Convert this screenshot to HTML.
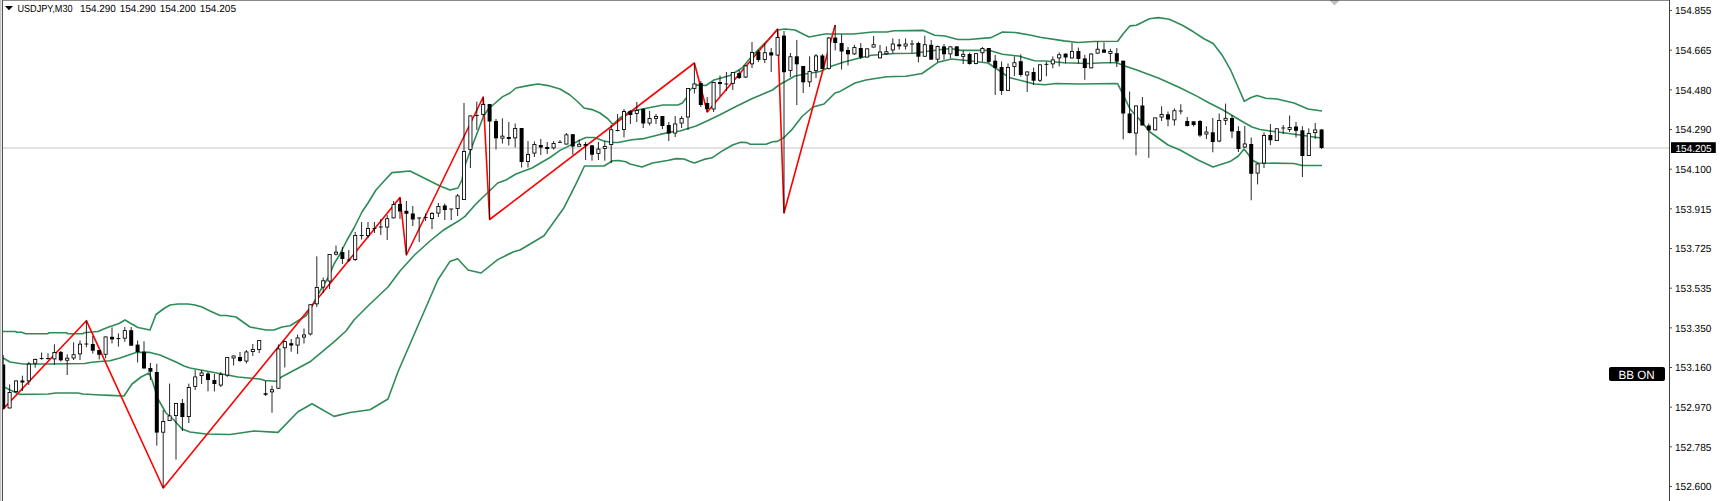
<!DOCTYPE html>
<html><head><meta charset="utf-8"><style>
html,body{margin:0;padding:0;background:#fff;}
body{width:1720px;height:501px;overflow:hidden;}
svg{display:block;}
text{font-family:"Liberation Sans",sans-serif;font-size:10.3px;fill:#000;text-rendering:geometricPrecision;}
</style></head><body>
<svg width="1720" height="501" viewBox="0 0 1720 501">
<rect width="1720" height="501" fill="#fff"/>
<defs><clipPath id="cp"><rect x="3" y="1" width="1666" height="500"/></clipPath></defs>
<line x1="3" y1="148" x2="1669" y2="148" stroke="#d8d8d8" stroke-width="1.5"/>
<g clip-path="url(#cp)">
<polyline points="0.0,331.5 15.4,331.5 16.7,332.3 21.8,332.3 25.6,333.8 47.4,333.8 49.4,332.8 66.7,332.8 68.0,333.8 82.7,333.8 84.0,332.8 98.0,331.5 102.6,329.6 110.0,326.4 112.0,326.0 119.0,323.5 125.0,320.0 130.0,323.0 138.0,327.5 150.0,330.0 156.0,314.5 164.0,308.5 170.0,305.0 178.0,304.0 188.0,304.0 195.0,305.0 202.0,307.0 210.0,311.0 220.0,315.5 226.0,315.5 236.0,317.0 250.0,327.0 266.0,330.0 274.0,330.0 282.0,327.0 290.0,325.8 306.0,315.8 312.0,306.0 320.0,291.0 328.0,278.0 334.0,264.0 340.0,254.0 344.0,246.0 347.0,240.0 354.0,228.0 362.0,212.0 368.0,203.0 376.0,190.0 385.0,180.0 392.0,172.6 410.0,171.0 428.0,180.0 440.0,186.0 450.0,190.0 458.0,188.0 462.0,180.0 464.0,168.0 471.6,147.5 477.6,132.0 483.5,116.3 488.3,109.0 493.0,105.0 502.7,96.6 510.0,93.0 516.0,88.0 528.0,85.6 538.0,84.0 548.0,85.6 560.0,89.0 570.0,95.0 578.0,102.0 584.0,108.0 592.0,109.6 600.0,113.0 608.0,119.0 613.0,124.5 619.8,118.0 630.0,111.5 645.0,108.5 663.0,105.0 678.0,105.0 682.4,103.0 687.0,97.0 690.0,90.0 696.0,85.0 706.0,85.5 714.0,80.0 730.0,75.5 742.0,68.0 752.0,56.0 770.0,38.0 777.0,30.0 785.0,29.0 795.0,30.0 809.0,37.0 824.8,34.0 853.5,34.0 872.7,32.0 887.0,32.0 894.0,30.8 923.5,30.4 934.7,35.2 945.0,36.0 957.8,39.5 969.0,39.5 991.0,37.6 1002.5,32.0 1015.0,32.5 1031.0,35.2 1040.0,37.2 1064.0,40.9 1078.0,42.5 1094.0,41.5 1117.7,41.3 1123.0,34.0 1129.8,25.9 1136.3,25.2 1149.5,18.7 1158.3,17.6 1169.3,19.3 1182.4,25.2 1193.4,31.8 1204.4,39.0 1213.2,43.5 1222.0,54.9 1230.7,70.2 1238.4,87.8 1244.3,101.4 1250.5,97.7 1257.0,95.5 1265.8,98.3 1277.0,99.0 1294.0,103.0 1308.0,109.0 1322.0,111.0" fill="none" stroke="#2e8b57" stroke-width="1.6" stroke-linejoin="round"/>
<polyline points="0.0,357.5 3.0,358.0 10.0,362.0 23.0,364.0 50.0,364.0 85.0,363.5 90.0,362.5 100.0,361.5 110.0,360.8 120.0,358.0 136.0,352.4 150.0,352.4 160.0,355.0 176.0,362.0 184.0,366.0 190.0,368.0 206.0,371.0 222.0,374.0 238.0,377.0 254.0,378.5 260.0,379.0 265.0,380.5 276.0,381.3 281.0,377.3 290.0,372.5 310.0,361.8 334.0,341.8 346.0,331.0 354.0,320.0 370.0,304.0 388.0,287.0 400.0,271.0 414.5,255.0 430.0,241.0 444.0,229.7 458.0,221.3 465.0,216.4 475.0,205.0 480.0,200.0 497.7,183.0 506.0,180.0 516.0,174.0 532.0,168.0 550.0,157.5 560.0,150.4 572.0,144.4 580.0,140.0 586.0,137.5 594.0,137.5 604.0,141.0 612.0,142.5 618.0,142.5 632.0,139.8 644.0,138.6 660.0,134.4 671.7,131.9 680.0,131.0 696.0,125.9 707.0,121.0 720.0,114.7 734.0,107.5 751.8,98.8 772.5,90.0 779.0,85.0 795.0,76.0 808.0,73.5 820.0,71.5 832.0,66.0 844.0,62.0 859.5,58.0 871.5,55.3 894.7,53.5 914.0,53.2 930.0,51.0 950.0,48.5 961.0,50.4 989.7,50.4 1002.5,54.3 1018.5,56.0 1034.5,60.7 1045.0,61.0 1064.0,62.7 1088.0,63.5 1104.0,62.7 1116.7,62.7 1124.7,66.0 1134.0,69.1 1158.3,78.0 1180.0,87.8 1197.8,96.6 1208.7,102.7 1222.6,109.7 1233.8,116.5 1244.0,122.5 1252.0,127.0 1260.0,129.5 1270.0,131.0 1300.0,135.0 1321.0,138.0" fill="none" stroke="#2e8b57" stroke-width="1.6" stroke-linejoin="round"/>
<polyline points="0.0,385.5 5.0,387.4 10.0,390.0 20.0,394.4 48.0,394.0 56.0,393.0 78.0,393.0 83.0,394.0 100.0,395.0 110.0,395.4 124.0,396.0 132.0,384.0 141.0,377.0 149.0,373.0 152.0,380.0 158.0,399.0 166.0,413.0 174.0,420.0 182.0,429.0 190.0,432.0 206.0,434.0 230.0,434.5 254.0,431.0 278.0,432.4 298.0,411.7 312.0,403.7 334.0,416.4 350.0,412.5 370.0,409.7 388.0,399.0 398.0,371.7 413.6,335.8 430.0,298.0 437.8,280.0 449.8,261.6 457.7,258.8 468.0,270.0 481.0,273.0 497.7,259.6 513.6,251.7 520.0,250.0 544.0,235.7 564.0,207.7 576.0,183.8 584.5,166.0 604.0,166.0 612.7,160.7 618.7,160.5 625.8,161.8 630.0,164.0 642.0,167.0 652.4,163.0 667.4,160.5 676.4,158.6 684.0,159.0 690.0,161.6 694.4,163.0 704.0,159.4 712.0,157.8 721.5,151.4 732.6,145.0 740.6,142.3 747.0,142.6 750.2,144.2 766.0,144.2 772.5,141.8 777.3,141.4 783.7,137.8 791.6,129.9 802.0,116.5 813.0,107.0 824.0,104.0 835.0,93.0 840.0,91.4 855.0,83.0 866.0,80.0 886.7,76.7 906.0,76.2 922.0,73.5 938.0,62.3 951.4,59.0 969.0,60.7 988.0,63.0 997.7,69.5 1009.0,77.5 1025.0,81.5 1034.5,84.0 1045.0,84.7 1056.0,83.5 1080.0,84.0 1115.0,83.5 1117.7,83.8 1123.0,94.4 1130.0,109.0 1140.0,120.0 1150.0,132.0 1168.0,145.0 1180.0,150.0 1198.0,160.0 1213.0,167.0 1230.0,161.6 1238.4,156.0 1244.0,149.0 1248.0,154.0 1252.3,160.3 1258.0,163.0 1294.0,163.5 1302.0,165.5 1322.0,165.5" fill="none" stroke="#2e8b57" stroke-width="1.6" stroke-linejoin="round"/>
<polyline points="3.2,409.0 86.4,320.7 163.2,488.0 400.0,197.6 406.4,255.0 483.2,97.0 489.6,219.5 694.4,63.0 707.2,112.0 777.6,29.0 784.0,213.0 835.2,25.0" fill="none" stroke="#ff0000" stroke-width="1.6" stroke-linejoin="round"/>
<path d="M3.20 355.0V409.5M9.60 384.4V408.4M16.00 380.5V393.0M22.40 375.7V391.0M28.80 362.0V385.0M35.20 358.6V367.7M41.60 352.5V359.7M48.00 353.3V359.7M54.40 344.3V364.7M60.80 351.0V361.5M67.20 354.3V375.0M73.60 342.3V360.0M80.00 340.4V360.0M86.40 320.7V347.3M92.80 336.0V353.6M99.20 350.0V359.5M105.60 336.5V358.3M112.00 327.4V343.4M118.40 333.4V346.6M124.80 327.0V341.8M131.20 327.0V345.7M137.60 340.6V362.5M144.00 341.3V368.5M150.40 363.0V380.0M156.80 363.7V445.6M163.20 410.0V488.0M169.60 383.6V421.0M176.00 403.0V459.6M182.40 399.0V431.0M188.80 383.6V423.0M195.20 370.0V390.0M201.60 370.0V384.0M208.00 372.0V391.4M214.40 374.0V391.4M220.80 372.0V387.0M227.20 357.0V377.0M233.60 355.5V365.5M240.00 352.0V362.0M246.40 350.0V363.5M252.80 344.0V356.0M259.20 340.0V353.0M265.60 381.0V396.0M272.00 385.7V412.7M278.40 344.5V389.0M284.80 340.5V367.5M291.20 339.0V351.8M297.60 334.5V354.0M304.00 328.5V343.5M310.40 304.3V335.5M316.80 256.4V307.0M323.20 277.5V293.0M329.60 254.0V289.0M336.00 245.5V255.5M342.40 247.0V264.0M348.80 250.0V262.0M355.20 232.0V261.0M361.60 222.0V239.5M368.00 222.0V238.0M374.40 222.0V233.0M380.80 219.0V235.0M387.20 215.0V240.0M393.60 201.0V218.3M400.00 197.6V219.0M406.40 201.0V255.0M412.80 206.0V226.0M419.20 217.5V242.0M425.60 213.5V221.0M432.00 212.0V229.0M438.40 203.0V217.0M444.80 203.5V220.0M451.20 209.0V220.0M457.60 194.0V216.0M464.00 103.0V200.0M470.40 115.5V168.0M476.80 101.6V130.0M483.20 97.0V116.0M489.60 104.0V219.5M496.00 119.0V149.5M502.40 118.4V143.5M508.80 122.0V145.5M515.20 123.5V147.5M521.60 128.0V167.5M528.00 141.0V167.5M534.40 141.5V157.0M540.80 139.0V155.0M547.20 142.0V154.0M553.60 141.0V149.5M560.00 140.0V143.0M566.40 133.0V144.5M572.80 134.2V154.7M579.20 139.8V146.0M585.60 142.0V160.0M592.00 145.0V160.7M598.40 142.0V160.0M604.80 141.0V160.7M611.20 124.8V163.0M617.60 114.0V131.4M624.00 109.0V137.4M630.40 110.0V124.0M636.80 102.0V122.0M643.20 108.0V128.0M649.60 111.0V125.5M656.00 114.0V124.0M662.40 116.0V129.0M668.80 122.0V141.0M675.20 116.0V137.0M681.60 116.0V128.0M688.00 88.0V130.0M694.40 63.0V93.5M700.80 81.0V107.0M707.20 97.0V112.0M713.60 82.0V112.0M720.00 75.5V96.0M726.40 72.0V91.0M732.80 72.0V90.0M739.20 70.0V79.0M745.60 65.0V78.0M752.00 42.0V68.0M758.40 50.0V62.0M764.80 43.5V63.0M771.20 48.0V72.0M777.60 29.0V55.5M784.00 31.0V213.0M790.40 53.0V77.0M796.80 40.0V105.0M803.20 66.0V93.0M809.60 56.3V87.0M816.00 54.0V78.0M822.40 54.0V69.0M828.80 37.0V69.5M835.20 25.0V50.4M841.60 34.4V69.5M848.00 47.0V65.5M854.40 44.8V55.0M860.80 43.0V59.0M867.20 48.4V57.5M873.60 36.0V47.5M880.00 45.0V58.3M886.40 46.4V55.0M892.80 38.4V53.5M899.20 39.0V49.6M905.60 38.4V49.6M912.00 40.0V53.5M918.40 41.6V62.3M924.80 35.7V56.7M931.20 40.0V60.0M937.60 45.6V62.0M944.00 44.0V59.6M950.40 46.4V58.3M956.80 46.0V56.4M963.20 50.4V64.0M969.60 52.7V64.7M976.00 53.2V64.4M982.40 47.0V61.5M988.80 48.0V62.8M995.20 55.0V95.0M1001.60 61.5V95.0M1008.00 63.5V91.0M1014.40 56.4V76.0M1020.80 54.3V76.7M1027.20 71.5V92.0M1033.60 67.6V85.0M1040.00 64.4V82.0M1046.40 62.0V76.3M1052.80 56.4V68.3M1059.20 52.4V66.4M1065.60 53.6V63.5M1072.00 42.8V58.4M1078.40 47.6V63.5M1084.80 54.8V79.8M1091.20 53.2V68.3M1097.60 41.5V53.6M1104.00 42.5V52.7M1110.40 48.8V63.2M1116.80 48.0V67.0M1123.20 60.7V139.4M1129.60 91.5V133.5M1136.00 105.5V155.4M1142.40 97.0V125.5M1148.80 123.5V157.8M1155.20 117.5V130.3M1161.60 106.3V121.0M1168.00 111.5V126.3M1174.40 108.3V125.5M1180.80 104.3V114.3M1187.20 117.0V126.5M1193.60 121.3V126.5M1200.00 120.0V137.0M1206.40 126.3V139.0M1212.80 118.0V152.3M1219.20 113.5V142.3M1225.60 103.6V125.0M1232.00 115.0V138.0M1238.40 126.3V152.0M1244.80 126.0V148.0M1251.20 137.5V200.3M1257.60 163.5V184.4M1264.00 132.3V168.0M1270.40 124.0V145.0M1276.80 128.3V141.0M1283.20 125.0V134.0M1289.60 115.5V132.0M1296.00 122.0V137.5M1302.40 126.3V177.0M1308.80 128.3V156.0M1315.20 123.0V139.0M1321.60 129.0V149.0" stroke="#000" stroke-width="0.85" fill="none"/>
<rect x="1.20" y="364.50" width="4.0" height="44.10" fill="#000"/>
<rect x="8.03" y="392.43" width="3.15" height="15.55" fill="#fff" stroke="#000" stroke-width="0.85"/>
<rect x="14.43" y="380.93" width="3.15" height="10.65" fill="#fff" stroke="#000" stroke-width="0.85"/>
<rect x="20.40" y="380.50" width="4.0" height="2.00" fill="#000"/>
<rect x="27.23" y="364.12" width="3.15" height="16.75" fill="#fff" stroke="#000" stroke-width="0.85"/>
<rect x="33.62" y="359.43" width="3.15" height="3.85" fill="#fff" stroke="#000" stroke-width="0.85"/>
<rect x="39.60" y="358.15" width="4.0" height="0.9" fill="#000"/>
<rect x="46.00" y="358.15" width="4.0" height="0.9" fill="#000"/>
<rect x="52.83" y="352.43" width="3.15" height="6.45" fill="#fff" stroke="#000" stroke-width="0.85"/>
<rect x="58.80" y="351.90" width="4.0" height="8.40" fill="#000"/>
<rect x="65.62" y="358.18" width="3.15" height="2.05" fill="#fff" stroke="#000" stroke-width="0.85"/>
<rect x="72.03" y="354.73" width="3.15" height="3.25" fill="#fff" stroke="#000" stroke-width="0.85"/>
<rect x="78.43" y="344.12" width="3.15" height="9.75" fill="#fff" stroke="#000" stroke-width="0.85"/>
<rect x="84.40" y="343.55" width="4.0" height="0.9" fill="#000"/>
<rect x="90.80" y="344.00" width="4.0" height="6.70" fill="#000"/>
<rect x="97.20" y="350.00" width="4.0" height="4.80" fill="#000"/>
<rect x="104.03" y="336.93" width="3.15" height="17.35" fill="#fff" stroke="#000" stroke-width="0.85"/>
<rect x="110.00" y="336.80" width="4.0" height="2.60" fill="#000"/>
<rect x="116.40" y="338.15" width="4.0" height="0.9" fill="#000"/>
<rect x="123.23" y="330.62" width="3.15" height="7.55" fill="#fff" stroke="#000" stroke-width="0.85"/>
<rect x="129.20" y="330.20" width="4.0" height="15.50" fill="#000"/>
<rect x="135.60" y="344.60" width="4.0" height="7.40" fill="#000"/>
<rect x="142.00" y="351.70" width="4.0" height="16.80" fill="#000"/>
<rect x="148.40" y="368.00" width="4.0" height="3.70" fill="#000"/>
<rect x="154.80" y="372.00" width="4.0" height="60.60" fill="#000"/>
<rect x="161.62" y="421.43" width="3.15" height="10.75" fill="#fff" stroke="#000" stroke-width="0.85"/>
<rect x="168.03" y="415.93" width="3.15" height="4.65" fill="#fff" stroke="#000" stroke-width="0.85"/>
<rect x="174.43" y="403.43" width="3.15" height="12.15" fill="#fff" stroke="#000" stroke-width="0.85"/>
<rect x="180.40" y="403.00" width="4.0" height="14.00" fill="#000"/>
<rect x="187.23" y="387.43" width="3.15" height="29.15" fill="#fff" stroke="#000" stroke-width="0.85"/>
<rect x="193.62" y="376.93" width="3.15" height="9.45" fill="#fff" stroke="#000" stroke-width="0.85"/>
<rect x="200.03" y="372.93" width="3.15" height="2.65" fill="#fff" stroke="#000" stroke-width="0.85"/>
<rect x="206.00" y="373.50" width="4.0" height="6.50" fill="#000"/>
<rect x="212.40" y="380.00" width="4.0" height="4.00" fill="#000"/>
<rect x="219.23" y="374.43" width="3.15" height="10.65" fill="#fff" stroke="#000" stroke-width="0.85"/>
<rect x="225.62" y="357.43" width="3.15" height="17.65" fill="#fff" stroke="#000" stroke-width="0.85"/>
<rect x="232.03" y="355.98" width="3.15" height="2.05" fill="#fff" stroke="#000" stroke-width="0.85"/>
<rect x="238.00" y="357.00" width="4.0" height="4.00" fill="#000"/>
<rect x="244.83" y="351.93" width="3.15" height="9.15" fill="#fff" stroke="#000" stroke-width="0.85"/>
<rect x="251.23" y="349.43" width="3.15" height="2.15" fill="#fff" stroke="#000" stroke-width="0.85"/>
<rect x="257.62" y="340.43" width="3.15" height="9.15" fill="#fff" stroke="#000" stroke-width="0.85"/>
<rect x="263.60" y="393.25" width="4.0" height="1.50" fill="#000"/>
<rect x="270.43" y="389.73" width="3.15" height="2.15" fill="#fff" stroke="#000" stroke-width="0.85"/>
<rect x="276.82" y="348.93" width="3.15" height="39.35" fill="#fff" stroke="#000" stroke-width="0.85"/>
<rect x="283.23" y="341.62" width="3.15" height="6.15" fill="#fff" stroke="#000" stroke-width="0.85"/>
<rect x="289.20" y="343.20" width="4.0" height="2.30" fill="#000"/>
<rect x="296.03" y="337.93" width="3.15" height="7.15" fill="#fff" stroke="#000" stroke-width="0.85"/>
<rect x="302.43" y="334.93" width="3.15" height="2.15" fill="#fff" stroke="#000" stroke-width="0.85"/>
<rect x="308.83" y="304.73" width="3.15" height="29.25" fill="#fff" stroke="#000" stroke-width="0.85"/>
<rect x="315.23" y="287.43" width="3.15" height="16.45" fill="#fff" stroke="#000" stroke-width="0.85"/>
<rect x="321.62" y="280.73" width="3.15" height="6.35" fill="#fff" stroke="#000" stroke-width="0.85"/>
<rect x="328.03" y="254.43" width="3.15" height="26.65" fill="#fff" stroke="#000" stroke-width="0.85"/>
<rect x="334.43" y="252.13" width="3.15" height="2.05" fill="#fff" stroke="#000" stroke-width="0.85"/>
<rect x="340.40" y="252.00" width="4.0" height="7.00" fill="#000"/>
<rect x="346.80" y="259.55" width="4.0" height="0.9" fill="#000"/>
<rect x="353.62" y="235.43" width="3.15" height="24.15" fill="#fff" stroke="#000" stroke-width="0.85"/>
<rect x="359.60" y="235.05" width="4.0" height="0.9" fill="#000"/>
<rect x="366.43" y="228.43" width="3.15" height="7.15" fill="#fff" stroke="#000" stroke-width="0.85"/>
<rect x="372.40" y="228.05" width="4.0" height="0.9" fill="#000"/>
<rect x="378.80" y="226.55" width="4.0" height="0.9" fill="#000"/>
<rect x="385.62" y="218.73" width="3.15" height="8.35" fill="#fff" stroke="#000" stroke-width="0.85"/>
<rect x="392.03" y="204.43" width="3.15" height="13.45" fill="#fff" stroke="#000" stroke-width="0.85"/>
<rect x="398.00" y="204.00" width="4.0" height="7.50" fill="#000"/>
<rect x="404.40" y="210.80" width="4.0" height="3.00" fill="#000"/>
<rect x="410.80" y="213.50" width="4.0" height="6.00" fill="#000"/>
<rect x="417.20" y="217.55" width="4.0" height="0.9" fill="#000"/>
<rect x="423.60" y="217.05" width="4.0" height="0.9" fill="#000"/>
<rect x="430.43" y="213.43" width="3.15" height="5.15" fill="#fff" stroke="#000" stroke-width="0.85"/>
<rect x="436.83" y="206.43" width="3.15" height="6.65" fill="#fff" stroke="#000" stroke-width="0.85"/>
<rect x="442.80" y="205.50" width="4.0" height="4.50" fill="#000"/>
<rect x="449.20" y="208.55" width="4.0" height="0.9" fill="#000"/>
<rect x="456.03" y="195.93" width="3.15" height="12.65" fill="#fff" stroke="#000" stroke-width="0.85"/>
<rect x="462.43" y="151.43" width="3.15" height="48.15" fill="#fff" stroke="#000" stroke-width="0.85"/>
<rect x="468.83" y="115.92" width="3.15" height="33.65" fill="#fff" stroke="#000" stroke-width="0.85"/>
<rect x="474.80" y="115.05" width="4.0" height="0.9" fill="#000"/>
<rect x="481.62" y="104.42" width="3.15" height="10.15" fill="#fff" stroke="#000" stroke-width="0.85"/>
<rect x="487.60" y="104.00" width="4.0" height="17.50" fill="#000"/>
<rect x="494.00" y="121.00" width="4.0" height="17.30" fill="#000"/>
<rect x="500.83" y="136.13" width="3.15" height="2.05" fill="#fff" stroke="#000" stroke-width="0.85"/>
<rect x="506.80" y="137.00" width="4.0" height="2.00" fill="#000"/>
<rect x="513.62" y="128.43" width="3.15" height="9.45" fill="#fff" stroke="#000" stroke-width="0.85"/>
<rect x="519.60" y="128.00" width="4.0" height="34.00" fill="#000"/>
<rect x="526.43" y="154.43" width="3.15" height="7.15" fill="#fff" stroke="#000" stroke-width="0.85"/>
<rect x="532.83" y="144.43" width="3.15" height="8.65" fill="#fff" stroke="#000" stroke-width="0.85"/>
<rect x="538.80" y="145.00" width="4.0" height="2.50" fill="#000"/>
<rect x="545.20" y="147.00" width="4.0" height="2.00" fill="#000"/>
<rect x="552.02" y="143.43" width="3.15" height="4.45" fill="#fff" stroke="#000" stroke-width="0.85"/>
<rect x="558.00" y="141.85" width="4.0" height="0.9" fill="#000"/>
<rect x="564.83" y="134.83" width="3.15" height="9.25" fill="#fff" stroke="#000" stroke-width="0.85"/>
<rect x="570.80" y="134.20" width="4.0" height="12.30" fill="#000"/>
<rect x="577.62" y="144.23" width="3.15" height="2.05" fill="#fff" stroke="#000" stroke-width="0.85"/>
<rect x="583.60" y="144.00" width="4.0" height="1.70" fill="#000"/>
<rect x="590.00" y="145.40" width="4.0" height="9.30" fill="#000"/>
<rect x="596.83" y="149.12" width="3.15" height="4.45" fill="#fff" stroke="#000" stroke-width="0.85"/>
<rect x="603.23" y="146.38" width="3.15" height="2.05" fill="#fff" stroke="#000" stroke-width="0.85"/>
<rect x="609.62" y="129.73" width="3.15" height="14.85" fill="#fff" stroke="#000" stroke-width="0.85"/>
<rect x="615.60" y="130.05" width="4.0" height="0.9" fill="#000"/>
<rect x="622.43" y="111.42" width="3.15" height="18.15" fill="#fff" stroke="#000" stroke-width="0.85"/>
<rect x="628.40" y="111.00" width="4.0" height="4.00" fill="#000"/>
<rect x="635.23" y="110.42" width="3.15" height="3.15" fill="#fff" stroke="#000" stroke-width="0.85"/>
<rect x="641.20" y="109.00" width="4.0" height="14.50" fill="#000"/>
<rect x="648.03" y="118.42" width="3.15" height="4.65" fill="#fff" stroke="#000" stroke-width="0.85"/>
<rect x="654.43" y="116.42" width="3.15" height="2.15" fill="#fff" stroke="#000" stroke-width="0.85"/>
<rect x="660.40" y="116.00" width="4.0" height="10.00" fill="#000"/>
<rect x="666.80" y="125.00" width="4.0" height="8.50" fill="#000"/>
<rect x="673.62" y="123.92" width="3.15" height="9.15" fill="#fff" stroke="#000" stroke-width="0.85"/>
<rect x="680.03" y="118.42" width="3.15" height="4.65" fill="#fff" stroke="#000" stroke-width="0.85"/>
<rect x="686.43" y="88.42" width="3.15" height="28.55" fill="#fff" stroke="#000" stroke-width="0.85"/>
<rect x="692.83" y="83.92" width="3.15" height="4.65" fill="#fff" stroke="#000" stroke-width="0.85"/>
<rect x="698.80" y="83.00" width="4.0" height="22.00" fill="#000"/>
<rect x="705.20" y="103.00" width="4.0" height="6.00" fill="#000"/>
<rect x="712.03" y="82.42" width="3.15" height="26.55" fill="#fff" stroke="#000" stroke-width="0.85"/>
<rect x="718.00" y="82.00" width="4.0" height="2.00" fill="#000"/>
<rect x="724.40" y="83.55" width="4.0" height="0.9" fill="#000"/>
<rect x="731.23" y="72.42" width="3.15" height="11.15" fill="#fff" stroke="#000" stroke-width="0.85"/>
<rect x="737.20" y="73.00" width="4.0" height="5.00" fill="#000"/>
<rect x="744.03" y="65.92" width="3.15" height="11.15" fill="#fff" stroke="#000" stroke-width="0.85"/>
<rect x="750.43" y="52.42" width="3.15" height="11.45" fill="#fff" stroke="#000" stroke-width="0.85"/>
<rect x="756.40" y="51.50" width="4.0" height="8.50" fill="#000"/>
<rect x="763.23" y="52.72" width="3.15" height="6.85" fill="#fff" stroke="#000" stroke-width="0.85"/>
<rect x="769.20" y="52.30" width="4.0" height="3.20" fill="#000"/>
<rect x="776.03" y="37.42" width="3.15" height="17.65" fill="#fff" stroke="#000" stroke-width="0.85"/>
<rect x="782.00" y="35.60" width="4.0" height="36.60" fill="#000"/>
<rect x="788.83" y="56.72" width="3.15" height="13.85" fill="#fff" stroke="#000" stroke-width="0.85"/>
<rect x="794.80" y="56.30" width="4.0" height="8.00" fill="#000"/>
<rect x="801.20" y="66.00" width="4.0" height="16.30" fill="#000"/>
<rect x="808.03" y="71.42" width="3.15" height="10.45" fill="#fff" stroke="#000" stroke-width="0.85"/>
<rect x="814.43" y="55.92" width="3.15" height="14.65" fill="#fff" stroke="#000" stroke-width="0.85"/>
<rect x="820.40" y="55.50" width="4.0" height="13.50" fill="#000"/>
<rect x="827.23" y="38.02" width="3.15" height="30.55" fill="#fff" stroke="#000" stroke-width="0.85"/>
<rect x="833.20" y="37.60" width="4.0" height="5.40" fill="#000"/>
<rect x="839.60" y="43.00" width="4.0" height="8.50" fill="#000"/>
<rect x="846.00" y="50.00" width="4.0" height="4.30" fill="#000"/>
<rect x="852.83" y="47.42" width="3.15" height="6.45" fill="#fff" stroke="#000" stroke-width="0.85"/>
<rect x="858.80" y="48.00" width="4.0" height="9.50" fill="#000"/>
<rect x="865.62" y="48.82" width="3.15" height="8.25" fill="#fff" stroke="#000" stroke-width="0.85"/>
<rect x="872.03" y="44.72" width="3.15" height="2.35" fill="#fff" stroke="#000" stroke-width="0.85"/>
<rect x="878.43" y="52.02" width="3.15" height="5.85" fill="#fff" stroke="#000" stroke-width="0.85"/>
<rect x="884.83" y="51.72" width="3.15" height="2.05" fill="#fff" stroke="#000" stroke-width="0.85"/>
<rect x="891.23" y="44.02" width="3.15" height="5.95" fill="#fff" stroke="#000" stroke-width="0.85"/>
<rect x="897.20" y="44.30" width="4.0" height="2.10" fill="#000"/>
<rect x="904.03" y="43.97" width="3.15" height="2.05" fill="#fff" stroke="#000" stroke-width="0.85"/>
<rect x="910.00" y="43.55" width="4.0" height="0.9" fill="#000"/>
<rect x="916.40" y="43.00" width="4.0" height="13.70" fill="#000"/>
<rect x="923.23" y="44.72" width="3.15" height="11.55" fill="#fff" stroke="#000" stroke-width="0.85"/>
<rect x="929.20" y="44.80" width="4.0" height="14.80" fill="#000"/>
<rect x="936.03" y="46.42" width="3.15" height="12.75" fill="#fff" stroke="#000" stroke-width="0.85"/>
<rect x="942.00" y="46.40" width="4.0" height="7.90" fill="#000"/>
<rect x="948.83" y="46.82" width="3.15" height="7.05" fill="#fff" stroke="#000" stroke-width="0.85"/>
<rect x="954.80" y="46.40" width="4.0" height="9.60" fill="#000"/>
<rect x="961.62" y="54.32" width="3.15" height="2.05" fill="#fff" stroke="#000" stroke-width="0.85"/>
<rect x="967.60" y="54.00" width="4.0" height="10.00" fill="#000"/>
<rect x="974.43" y="53.62" width="3.15" height="9.95" fill="#fff" stroke="#000" stroke-width="0.85"/>
<rect x="980.83" y="48.42" width="3.15" height="4.35" fill="#fff" stroke="#000" stroke-width="0.85"/>
<rect x="986.80" y="48.00" width="4.0" height="13.90" fill="#000"/>
<rect x="993.20" y="60.70" width="4.0" height="7.30" fill="#000"/>
<rect x="999.60" y="67.00" width="4.0" height="24.00" fill="#000"/>
<rect x="1006.43" y="67.42" width="3.15" height="23.15" fill="#fff" stroke="#000" stroke-width="0.85"/>
<rect x="1012.83" y="62.72" width="3.15" height="3.85" fill="#fff" stroke="#000" stroke-width="0.85"/>
<rect x="1018.80" y="61.20" width="4.0" height="13.80" fill="#000"/>
<rect x="1025.62" y="71.92" width="3.15" height="3.15" fill="#fff" stroke="#000" stroke-width="0.85"/>
<rect x="1031.60" y="72.00" width="4.0" height="8.70" fill="#000"/>
<rect x="1038.42" y="64.83" width="3.15" height="15.45" fill="#fff" stroke="#000" stroke-width="0.85"/>
<rect x="1044.40" y="63.85" width="4.0" height="0.9" fill="#000"/>
<rect x="1051.23" y="59.92" width="3.15" height="3.95" fill="#fff" stroke="#000" stroke-width="0.85"/>
<rect x="1057.62" y="54.72" width="3.15" height="3.25" fill="#fff" stroke="#000" stroke-width="0.85"/>
<rect x="1063.60" y="53.60" width="4.0" height="3.90" fill="#000"/>
<rect x="1070.42" y="51.42" width="3.15" height="6.55" fill="#fff" stroke="#000" stroke-width="0.85"/>
<rect x="1076.40" y="51.00" width="4.0" height="8.00" fill="#000"/>
<rect x="1082.80" y="58.40" width="4.0" height="9.60" fill="#000"/>
<rect x="1089.62" y="54.02" width="3.15" height="13.85" fill="#fff" stroke="#000" stroke-width="0.85"/>
<rect x="1096.03" y="49.22" width="3.15" height="3.95" fill="#fff" stroke="#000" stroke-width="0.85"/>
<rect x="1102.00" y="49.50" width="4.0" height="3.20" fill="#000"/>
<rect x="1108.83" y="51.38" width="3.15" height="2.05" fill="#fff" stroke="#000" stroke-width="0.85"/>
<rect x="1114.80" y="53.20" width="4.0" height="8.40" fill="#000"/>
<rect x="1121.20" y="60.70" width="4.0" height="52.80" fill="#000"/>
<rect x="1127.60" y="113.50" width="4.0" height="19.50" fill="#000"/>
<rect x="1134.42" y="105.92" width="3.15" height="27.15" fill="#fff" stroke="#000" stroke-width="0.85"/>
<rect x="1140.40" y="105.50" width="4.0" height="20.00" fill="#000"/>
<rect x="1146.80" y="125.50" width="4.0" height="4.80" fill="#000"/>
<rect x="1153.62" y="117.92" width="3.15" height="11.95" fill="#fff" stroke="#000" stroke-width="0.85"/>
<rect x="1160.03" y="114.42" width="3.15" height="2.65" fill="#fff" stroke="#000" stroke-width="0.85"/>
<rect x="1166.00" y="114.30" width="4.0" height="5.20" fill="#000"/>
<rect x="1172.83" y="110.72" width="3.15" height="9.15" fill="#fff" stroke="#000" stroke-width="0.85"/>
<rect x="1178.80" y="110.55" width="4.0" height="0.9" fill="#000"/>
<rect x="1185.20" y="121.00" width="4.0" height="5.00" fill="#000"/>
<rect x="1191.60" y="121.30" width="4.0" height="3.70" fill="#000"/>
<rect x="1198.00" y="121.00" width="4.0" height="14.50" fill="#000"/>
<rect x="1204.83" y="131.98" width="3.15" height="2.05" fill="#fff" stroke="#000" stroke-width="0.85"/>
<rect x="1210.80" y="132.30" width="4.0" height="9.70" fill="#000"/>
<rect x="1217.62" y="120.42" width="3.15" height="20.65" fill="#fff" stroke="#000" stroke-width="0.85"/>
<rect x="1224.03" y="118.27" width="3.15" height="2.05" fill="#fff" stroke="#000" stroke-width="0.85"/>
<rect x="1230.00" y="118.00" width="4.0" height="13.50" fill="#000"/>
<rect x="1236.40" y="131.00" width="4.0" height="18.00" fill="#000"/>
<rect x="1243.23" y="143.93" width="3.15" height="3.15" fill="#fff" stroke="#000" stroke-width="0.85"/>
<rect x="1249.20" y="144.00" width="4.0" height="29.80" fill="#000"/>
<rect x="1256.03" y="163.93" width="3.15" height="9.15" fill="#fff" stroke="#000" stroke-width="0.85"/>
<rect x="1262.43" y="135.43" width="3.15" height="27.65" fill="#fff" stroke="#000" stroke-width="0.85"/>
<rect x="1268.40" y="135.00" width="4.0" height="5.30" fill="#000"/>
<rect x="1275.23" y="128.73" width="3.15" height="11.85" fill="#fff" stroke="#000" stroke-width="0.85"/>
<rect x="1281.20" y="127.55" width="4.0" height="0.9" fill="#000"/>
<rect x="1288.03" y="127.47" width="3.15" height="2.05" fill="#fff" stroke="#000" stroke-width="0.85"/>
<rect x="1294.00" y="126.50" width="4.0" height="4.30" fill="#000"/>
<rect x="1300.40" y="130.30" width="4.0" height="25.70" fill="#000"/>
<rect x="1307.23" y="133.43" width="3.15" height="22.15" fill="#fff" stroke="#000" stroke-width="0.85"/>
<rect x="1313.62" y="129.93" width="3.15" height="2.65" fill="#fff" stroke="#000" stroke-width="0.85"/>
<rect x="1319.60" y="129.50" width="4.0" height="18.50" fill="#000"/>
</g>
<rect x="0" y="0" width="1" height="501" fill="#c4c4c4"/>
<rect x="1" y="0" width="1" height="501" fill="#e8e8e8"/>
<rect x="2" y="0" width="1" height="501" fill="#505050"/>
<rect x="3" y="0" width="1666" height="1" fill="#8a8a8a"/>
<rect x="1669" y="0" width="1" height="501" fill="#404040"/>
<path d="M1330 1H1339L1334.5 5.4Z" fill="#c0c0c0"/><rect x="1330" y="0" width="9" height="1" fill="#6a6a6a"/>
<path d="M5 6H13L9 10.2Z" fill="#000"/>
<text x="17.4" y="11.9" textLength="55.2" lengthAdjust="spacingAndGlyphs">USDJPY,M30</text>
<text x="79.9" y="11.9" textLength="36" lengthAdjust="spacingAndGlyphs">154.290</text>
<text x="119.8" y="11.9" textLength="36" lengthAdjust="spacingAndGlyphs">154.290</text>
<text x="159.8" y="11.9" textLength="36" lengthAdjust="spacingAndGlyphs">154.200</text>
<text x="199.7" y="11.9" textLength="36.3" lengthAdjust="spacingAndGlyphs">154.205</text>
<rect x="1670" y="10.00" width="2" height="1" fill="#505050"/>
<text x="1675" y="14.20" textLength="36.4" lengthAdjust="spacingAndGlyphs">154.855</text>
<rect x="1670" y="49.67" width="2" height="1" fill="#505050"/>
<text x="1675" y="53.87" textLength="36.4" lengthAdjust="spacingAndGlyphs">154.665</text>
<rect x="1670" y="89.33" width="2" height="1" fill="#505050"/>
<text x="1675" y="93.53" textLength="36.4" lengthAdjust="spacingAndGlyphs">154.480</text>
<rect x="1670" y="129.00" width="2" height="1" fill="#505050"/>
<text x="1675" y="133.20" textLength="36.4" lengthAdjust="spacingAndGlyphs">154.290</text>
<rect x="1670" y="168.67" width="2" height="1" fill="#505050"/>
<text x="1675" y="172.87" textLength="36.4" lengthAdjust="spacingAndGlyphs">154.100</text>
<rect x="1670" y="208.34" width="2" height="1" fill="#505050"/>
<text x="1675" y="212.53" textLength="36.4" lengthAdjust="spacingAndGlyphs">153.915</text>
<rect x="1670" y="248.00" width="2" height="1" fill="#505050"/>
<text x="1675" y="252.20" textLength="36.4" lengthAdjust="spacingAndGlyphs">153.725</text>
<rect x="1670" y="287.67" width="2" height="1" fill="#505050"/>
<text x="1675" y="291.87" textLength="36.4" lengthAdjust="spacingAndGlyphs">153.535</text>
<rect x="1670" y="327.34" width="2" height="1" fill="#505050"/>
<text x="1675" y="331.54" textLength="36.4" lengthAdjust="spacingAndGlyphs">153.350</text>
<rect x="1670" y="367.00" width="2" height="1" fill="#505050"/>
<text x="1675" y="371.20" textLength="36.4" lengthAdjust="spacingAndGlyphs">153.160</text>
<rect x="1670" y="406.67" width="2" height="1" fill="#505050"/>
<text x="1675" y="410.87" textLength="36.4" lengthAdjust="spacingAndGlyphs">152.970</text>
<rect x="1670" y="446.34" width="2" height="1" fill="#505050"/>
<text x="1675" y="450.54" textLength="36.4" lengthAdjust="spacingAndGlyphs">152.785</text>
<rect x="1670" y="486.00" width="2" height="1" fill="#505050"/>
<text x="1675" y="490.20" textLength="36.4" lengthAdjust="spacingAndGlyphs">152.600</text>
<rect x="1671" y="142.2" width="44.8" height="10.8" fill="#000"/>
<text x="1675.5" y="151.6" textLength="36.2" lengthAdjust="spacingAndGlyphs" style="fill:#fff">154.205</text>
<rect x="1609" y="367" width="56" height="14" rx="2" fill="#000"/>
<text x="1618.6" y="379" textLength="36" lengthAdjust="spacingAndGlyphs" style="fill:#fff;font-size:12px">BB ON</text>
</svg>
</body></html>
